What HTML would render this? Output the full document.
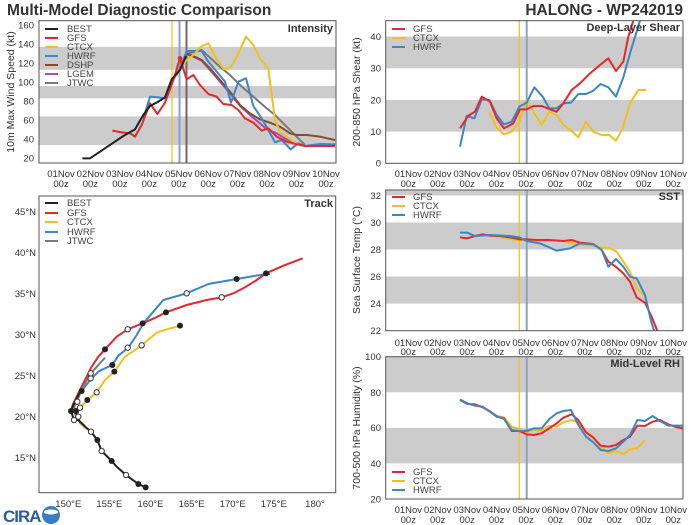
<!DOCTYPE html>
<html><head><meta charset="utf-8"><style>
html,body{margin:0;padding:0;background:#fff;}
svg{display:block;font-family:"Liberation Sans","DejaVu Sans",sans-serif;}
.t{font-size:9.5px;fill:#333;}
.yl{font-size:10.5px;fill:#333;}
.lg{font-size:9.5px;fill:#444;}
.pt{font-size:11px;font-weight:bold;fill:#333;}
</style></head><body>
<svg width="700" height="525" viewBox="0 0 700 525" xmlns="http://www.w3.org/2000/svg">
<defs>
<clipPath id="c1"><rect x="39" y="20.7" width="297" height="142.3"/></clipPath>
<clipPath id="c2"><rect x="385.7" y="20.7" width="297.3" height="142.6"/></clipPath>
<clipPath id="c3"><rect x="385.7" y="190" width="297.3" height="140.7"/></clipPath>
<clipPath id="c4"><rect x="385.7" y="356.7" width="297.3" height="142.3"/></clipPath>
<clipPath id="c5"><rect x="39" y="196" width="296.7" height="296.7"/></clipPath>
</defs>
<text x="7" y="15" style="font-size:15.5px;font-weight:bold;fill:#333">Multi-Model Diagnostic Comparison</text>
<text x="683" y="15" text-anchor="end" style="font-size:15.5px;font-weight:bold;fill:#333">HALONG - WP242019</text>

<!-- INTENSITY -->
<g clip-path="url(#c1)">
<rect x="39" y="46.9" width="297" height="22.9" fill="#cccccc"/>
<rect x="39" y="86" width="297" height="12.3" fill="#cccccc"/>
<rect x="39" y="116.4" width="297" height="28.6" fill="#cccccc"/>
<line x1="172" y1="20" x2="172" y2="163" stroke="#f2c019" stroke-width="1.2"/>
<line x1="179.5" y1="20" x2="179.5" y2="163" stroke="#8da0c8" stroke-width="2"/>
<line x1="186.5" y1="20" x2="186.5" y2="163" stroke="#7a6468" stroke-width="2"/>
<g transform="scale(0.33333)" fill="none" stroke-width="6" stroke-linejoin="round">
<polyline stroke="#7a7a7a" points="558,162 605,150 665,205 690,225 720,255 760,290 800,325 825,345 860,380 890,410 915,435"/>
<polyline stroke="#a050b8" points="558,162 580,170 605,182 630,210 660,245 690,280 720,318 750,345 780,370 800,388 830,400 860,418 895,432"/>
<polyline stroke="#8b4a2b" points="558,160 580,168 605,180 630,205 660,240 690,275 720,315 750,340 780,358 810,368 840,380 870,400 890,405 920,405 960,410 1005,420"/>
<polyline stroke="#3a86c8" points="430,355 450,290 475,292 495,295 520,235 540,205 560,153 580,153 605,153 625,185 650,215 675,245 693,308 715,245 738,235 760,318 785,355 805,390 825,427 845,420 872,448 895,430 915,438 960,432 1005,433"/>
<polyline stroke="#f2c019" points="520,240 540,210 560,180 580,165 605,138 625,130 650,178 672,208 692,203 715,160 738,110 760,135 780,175 805,208 825,360 840,395 870,418 895,435"/>
<polyline stroke="#e8262b" points="337,392 365,397 390,400 405,410 425,375 450,310 472,342 495,308 520,240 540,175 560,238 580,225 600,255 625,282 650,290 670,312 695,315 715,330 735,355 760,368 785,392 805,385 830,410 860,425 890,433 915,438 1005,438"/>
<polyline stroke="#222" points="247,475 270,475 300,455 340,428 370,408 405,388 430,345 450,318 475,305 495,292 515,238 530,222 540,210 558,168"/>
<circle cx="540" cy="175" r="7" fill="#e8262b" stroke="none"/>
</g>
</g>
<rect x="39" y="20.7" width="297" height="142.3" fill="none" stroke="#555" stroke-width="1"/>
<g class="t" text-anchor="end">
<text x="34" y="161.5">20</text><text x="34" y="142.5">40</text><text x="34" y="123.5">60</text><text x="34" y="104.5">80</text><text x="34" y="85.5">100</text><text x="34" y="66.5">120</text><text x="34" y="47.5">140</text><text x="34" y="28.5">160</text>
</g>
<text class="yl" transform="translate(14,92) rotate(-90)" text-anchor="middle">10m Max Wind Speed (kt)</text>
<text class="pt" x="333" y="32" text-anchor="end">Intensity</text>
<g class="lg">
<line x1="45" y1="29" x2="58" y2="29" stroke="#222" stroke-width="2"/><text x="67" y="32">BEST</text>
<line x1="45" y1="38" x2="58" y2="38" stroke="#e8262b" stroke-width="2"/><text x="67" y="41">GFS</text>
<line x1="45" y1="47" x2="58" y2="47" stroke="#f2c019" stroke-width="2"/><text x="67" y="50">CTCX</text>
<line x1="45" y1="56" x2="58" y2="56" stroke="#3a86c8" stroke-width="2"/><text x="67" y="59">HWRF</text>
<line x1="45" y1="65" x2="58" y2="65" stroke="#8b4a2b" stroke-width="2"/><text x="67" y="68">DSHP</text>
<line x1="45" y1="74" x2="58" y2="74" stroke="#a050b8" stroke-width="2"/><text x="67" y="77">LGEM</text>
<line x1="45" y1="83" x2="58" y2="83" stroke="#7a7a7a" stroke-width="2"/><text x="67" y="86">JTWC</text>
</g>
<g class="t" text-anchor="middle">
<text x="61" y="177">01Nov</text><text x="90.4" y="177">02Nov</text><text x="119.9" y="177">03Nov</text><text x="149.3" y="177">04Nov</text><text x="178.8" y="177">05Nov</text><text x="208.2" y="177">06Nov</text><text x="237.6" y="177">07Nov</text><text x="267.1" y="177">08Nov</text><text x="296.5" y="177">09Nov</text><text x="326" y="177">10Nov</text>
<text x="61" y="187">00z</text><text x="90.4" y="187">00z</text><text x="119.9" y="187">00z</text><text x="149.3" y="187">00z</text><text x="178.8" y="187">00z</text><text x="208.2" y="187">00z</text><text x="237.6" y="187">00z</text><text x="267.1" y="187">00z</text><text x="296.5" y="187">00z</text><text x="326" y="187">00z</text>
</g>

<!-- SHEAR -->
<g clip-path="url(#c2)">
<rect x="385.7" y="36.6" width="298" height="31.7" fill="#cccccc"/>
<rect x="385.7" y="100" width="298" height="31.6" fill="#cccccc"/>
<line x1="519.3" y1="20" x2="519.3" y2="164" stroke="#f2c019" stroke-width="1.2"/>
<line x1="526.7" y1="20" x2="526.7" y2="164" stroke="#8da0c8" stroke-width="2"/>
<g transform="translate(350,0) scale(0.33333)" fill="none" stroke-width="6" stroke-linejoin="round">
<polyline stroke="#f2c019" points="418,337 440,383 462,403 485,395 508,365 530,300 552,338 575,375 598,335 620,345 640,375 665,393 685,412 708,365 730,395 755,405 778,405 798,422 818,385 840,310 865,270 888,270"/>
<polyline stroke="#3a86c8" points="330,440 350,348 373,355 395,298 418,300 440,345 462,373 485,365 508,320 530,308 553,262 578,290 598,325 620,325 640,310 663,308 685,282 708,282 730,272 752,252 775,262 798,290 820,232 843,150 870,62"/>
<polyline stroke="#e8262b" points="330,385 355,347 375,335 395,290 420,305 440,355 462,385 490,370 510,328 530,328 550,318 575,318 600,328 620,335 640,310 665,270 690,250 720,220 750,195 775,175 798,213 820,185 835,110 850,62"/>
</g>
</g>
<rect x="385.7" y="20.7" width="297.3" height="142.6" fill="none" stroke="#555"/>
<g class="t" text-anchor="end">
<text x="381" y="166.5">0</text><text x="381" y="135">10</text><text x="381" y="103.5">20</text><text x="381" y="71.5">30</text><text x="381" y="40">40</text>
</g>
<text class="yl" transform="translate(360,92) rotate(-90)" text-anchor="middle">200-850 hPa Shear (kt)</text>
<text class="pt" x="680" y="31" text-anchor="end">Deep-Layer Shear</text>
<g class="lg">
<line x1="392" y1="29" x2="405" y2="29" stroke="#e8262b" stroke-width="2"/><text x="413" y="32">GFS</text>
<line x1="392" y1="38" x2="405" y2="38" stroke="#f2c019" stroke-width="2"/><text x="413" y="41">CTCX</text>
<line x1="392" y1="47" x2="405" y2="47" stroke="#3a86c8" stroke-width="2"/><text x="413" y="50">HWRF</text>
</g>
<g class="t" text-anchor="middle" id="xr1">
<text x="408.3" y="177">01Nov</text><text x="437.7" y="177">02Nov</text><text x="467.2" y="177">03Nov</text><text x="496.6" y="177">04Nov</text><text x="526.1" y="177">05Nov</text><text x="555.5" y="177">06Nov</text><text x="584.9" y="177">07Nov</text><text x="614.4" y="177">08Nov</text><text x="643.8" y="177">09Nov</text><text x="673.3" y="177">10Nov</text>
<text x="408.3" y="187">00z</text><text x="437.7" y="187">00z</text><text x="467.2" y="187">00z</text><text x="496.6" y="187">00z</text><text x="526.1" y="187">00z</text><text x="555.5" y="187">00z</text><text x="584.9" y="187">00z</text><text x="614.4" y="187">00z</text><text x="643.8" y="187">00z</text><text x="673.3" y="187">00z</text>
</g>

<!-- SST -->
<g clip-path="url(#c3)">
<rect x="385.7" y="180" width="298" height="15.4" fill="#cccccc"/>
<rect x="385.7" y="222.5" width="298" height="27" fill="#cccccc"/>
<rect x="385.7" y="276.6" width="298" height="27" fill="#cccccc"/>
<line x1="519.3" y1="189" x2="519.3" y2="331" stroke="#f2c019" stroke-width="1.2"/>
<line x1="526.7" y1="189" x2="526.7" y2="331" stroke="#8da0c8" stroke-width="2"/>
<g transform="translate(350,180) scale(0.33333)" fill="none" stroke-width="6" stroke-linejoin="round">
<polyline stroke="#f2c019" points="420,168 450,172 480,177 508,182 530,180 560,183 640,183 690,195 730,197 755,202 780,205 800,215 820,245 840,275 860,325 885,350 900,410 915,460"/>
<polyline stroke="#e8262b" points="330,172 352,175 375,168 398,163 420,167 450,168 480,172 508,178 530,178 560,180 600,180 640,183 665,180 690,188 730,192 755,210 775,245 800,262 820,280 840,305 860,352 885,368 905,410 925,460"/>
<polyline stroke="#3a86c8" points="330,158 352,158 375,168 420,165 480,168 508,172 530,183 570,190 620,212 660,205 690,190 730,193 755,210 775,260 798,237 820,260 840,290 860,295 885,345 905,430 915,460"/>
</g>
</g>
<rect x="385.7" y="190" width="297.3" height="140.7" fill="none" stroke="#555"/>
<g class="t" text-anchor="end">
<text x="381" y="334">22</text><text x="381" y="307">24</text><text x="381" y="280">26</text><text x="381" y="253">28</text><text x="381" y="226">30</text><text x="381" y="199">32</text>
</g>
<text class="yl" transform="translate(360,260) rotate(-90)" text-anchor="middle">Sea Surface Temp (°C)</text>
<text class="pt" x="680" y="200" text-anchor="end">SST</text>
<g class="lg">
<line x1="392" y1="197" x2="405" y2="197" stroke="#e8262b" stroke-width="2"/><text x="413" y="200">GFS</text>
<line x1="392" y1="206" x2="405" y2="206" stroke="#f2c019" stroke-width="2"/><text x="413" y="209">CTCX</text>
<line x1="392" y1="215" x2="405" y2="215" stroke="#3a86c8" stroke-width="2"/><text x="413" y="218">HWRF</text>
</g>
<g class="t" text-anchor="middle">
<text x="408.3" y="346">01Nov</text><text x="437.7" y="346">02Nov</text><text x="467.2" y="346">03Nov</text><text x="496.6" y="346">04Nov</text><text x="526.1" y="346">05Nov</text><text x="555.5" y="346">06Nov</text><text x="584.9" y="346">07Nov</text><text x="614.4" y="346">08Nov</text><text x="643.8" y="346">09Nov</text><text x="673.3" y="346">10Nov</text>
<text x="408.3" y="355">00z</text><text x="437.7" y="355">00z</text><text x="467.2" y="355">00z</text><text x="496.6" y="355">00z</text><text x="526.1" y="355">00z</text><text x="555.5" y="355">00z</text><text x="584.9" y="355">00z</text><text x="614.4" y="355">00z</text><text x="643.8" y="355">00z</text><text x="673.3" y="355">00z</text>
</g>

<!-- RH -->
<g clip-path="url(#c4)">
<rect x="385.7" y="356.7" width="298" height="35.6" fill="#cccccc"/>
<rect x="385.7" y="427.9" width="298" height="35.5" fill="#cccccc"/>
<line x1="519.3" y1="356" x2="519.3" y2="500" stroke="#f2c019" stroke-width="1.2"/>
<line x1="526.7" y1="356" x2="526.7" y2="500" stroke="#8da0c8" stroke-width="2"/>
<g transform="translate(350,345) scale(0.33333)" fill="none" stroke-width="6" stroke-linejoin="round">
<polyline stroke="#f2c019" points="410,192 440,213 462,217 485,245 508,252 530,262 552,255 575,258 598,242 620,245 640,232 663,225 685,232 708,262 730,275 752,305 775,325 798,318 820,327 840,313 862,310 885,285"/>
<polyline stroke="#e8262b" points="330,165 352,177 375,178 400,188 420,200 440,215 462,220 485,258 508,258 530,268 552,270 575,265 598,250 620,235 640,218 665,208 685,225 708,262 730,278 752,302 775,305 798,300 820,285 840,275 862,242 885,243 908,230 930,225 955,238 978,246 998,250"/>
<polyline stroke="#3a86c8" points="330,163 352,175 375,182 398,185 420,200 440,213 462,222 485,255 508,258 530,258 552,250 575,250 598,222 620,205 640,198 663,195 685,240 708,275 730,292 752,315 775,318 798,310 820,290 840,270 862,225 885,228 908,213 930,228 955,242 998,242"/>
</g>
</g>
<rect x="385.7" y="356.7" width="297.3" height="142.3" fill="none" stroke="#555"/>
<g class="t" text-anchor="end">
<text x="381" y="502.5">20</text><text x="381" y="467">40</text><text x="381" y="431">60</text><text x="381" y="396">80</text><text x="381" y="360">100</text>
</g>
<text class="yl" transform="translate(360,428) rotate(-90)" text-anchor="middle">700-500 hPa Humidity (%)</text>
<text class="pt" x="680" y="367" text-anchor="end">Mid-Level RH</text>
<g class="lg">
<line x1="392" y1="472" x2="405" y2="472" stroke="#e8262b" stroke-width="2"/><text x="413" y="475">GFS</text>
<line x1="392" y1="481" x2="405" y2="481" stroke="#f2c019" stroke-width="2"/><text x="413" y="484">CTCX</text>
<line x1="392" y1="490" x2="405" y2="490" stroke="#3a86c8" stroke-width="2"/><text x="413" y="493">HWRF</text>
</g>
<g class="t" text-anchor="middle">
<text x="408.3" y="513">01Nov</text><text x="437.7" y="513">02Nov</text><text x="467.2" y="513">03Nov</text><text x="496.6" y="513">04Nov</text><text x="526.1" y="513">05Nov</text><text x="555.5" y="513">06Nov</text><text x="584.9" y="513">07Nov</text><text x="614.4" y="513">08Nov</text><text x="643.8" y="513">09Nov</text><text x="673.3" y="513">10Nov</text>
<text x="408.3" y="523">00z</text><text x="437.7" y="523">00z</text><text x="467.2" y="523">00z</text><text x="496.6" y="523">00z</text><text x="526.1" y="523">00z</text><text x="555.5" y="523">00z</text><text x="584.9" y="523">00z</text><text x="614.4" y="523">00z</text><text x="643.8" y="523">00z</text><text x="673.3" y="523">00z</text>
</g>

<!-- TRACK -->
<g clip-path="url(#c5)">
<g transform="translate(0,200) scale(0.33333)" fill="none" stroke-width="6" stroke-linejoin="round">
<polyline stroke="#f2c019" points="262,688 240,670 230,645 240,623 262,600 290,577 315,540 343,515 375,470 425,436 470,398 500,388 540,377"/>
<polyline stroke="#3a86c8" points="255,678 240,665 230,650 222,620 228,600 240,580 255,560 275,535 295,515 315,505 337,495 355,467 385,443 410,405 430,370 460,335 490,300 560,280 625,252 710,237 798,222 810,222"/>
<polyline stroke="#e8262b" points="213,633 218,615 235,580 245,560 260,530 275,500 295,470 315,448 350,410 383,388 428,370 462,355 498,337 560,315 620,300 665,292 700,280 733,263 770,240 798,220 850,197 908,175"/>
<polyline stroke="#7a7a7a" points="228,652 222,622 232,600 250,560 270,523 295,495 315,473"/>
<polyline stroke="#222" points="437,862 415,852 378,825 350,800 335,783 305,753 292,720 273,695 255,680 235,660 222,660 213,633 220,615 228,600 240,575 245,565"/>
<g fill="#222" stroke="none">
<circle cx="437" cy="862" r="9"/><circle cx="415" cy="852" r="9"/><circle cx="335" cy="783" r="9"/><circle cx="292" cy="720" r="9"/><circle cx="213" cy="633" r="9"/><circle cx="228" cy="633" r="9"/><circle cx="245" cy="573" r="9"/><circle cx="262" cy="600" r="9"/><circle cx="315" cy="448" r="9"/><circle cx="343" cy="515" r="9"/><circle cx="337" cy="495" r="9"/><circle cx="428" cy="370" r="9"/><circle cx="498" cy="337" r="9"/><circle cx="540" cy="377" r="9"/><circle cx="710" cy="237" r="9"/><circle cx="798" cy="220" r="9"/>
</g>
<g fill="#fff" stroke="#333" stroke-width="3">
<circle cx="378" cy="825" r="8"/><circle cx="305" cy="753" r="8"/><circle cx="273" cy="695" r="8"/><circle cx="222" cy="660" r="8"/><circle cx="235" cy="650" r="8"/><circle cx="240" cy="623" r="8"/><circle cx="232" cy="605" r="8"/><circle cx="290" cy="577" r="8"/><circle cx="272" cy="535" r="8"/><circle cx="272" cy="520" r="8"/><circle cx="383" cy="388" r="8"/><circle cx="383" cy="443" r="8"/><circle cx="425" cy="436" r="8"/><circle cx="560" cy="280" r="8"/><circle cx="665" cy="292" r="8"/>
</g>
</g>
</g>
<rect x="39" y="196" width="296.7" height="296.7" fill="none" stroke="#555"/>
<text class="pt" x="333" y="207" text-anchor="end">Track</text>
<g class="lg">
<line x1="45" y1="203" x2="58" y2="203" stroke="#222" stroke-width="2"/><text x="67" y="206">BEST</text>
<line x1="45" y1="213" x2="58" y2="213" stroke="#e8262b" stroke-width="2"/><text x="67" y="216">GFS</text>
<line x1="45" y1="222" x2="58" y2="222" stroke="#f2c019" stroke-width="2"/><text x="67" y="225">CTCX</text>
<line x1="45" y1="232" x2="58" y2="232" stroke="#3a86c8" stroke-width="2"/><text x="67" y="235">HWRF</text>
<line x1="45" y1="241" x2="58" y2="241" stroke="#7a7a7a" stroke-width="2"/><text x="67" y="244">JTWC</text>
</g>
<g class="t" text-anchor="end">
<text x="36" y="215">45°N</text><text x="36" y="256">40°N</text><text x="36" y="297">35°N</text><text x="36" y="338">30°N</text><text x="36" y="379">25°N</text><text x="36" y="420">20°N</text><text x="36" y="461">15°N</text>
</g>
<g class="t" text-anchor="middle">
<text x="68.3" y="507">150°E</text><text x="109.4" y="507">155°E</text><text x="150.5" y="507">160°E</text><text x="191.6" y="507">165°E</text><text x="232.7" y="507">170°E</text><text x="273.8" y="507">175°E</text><text x="315" y="507">180°</text>
</g>
<!-- CIRA logo -->
<text x="3" y="522" style="font-size:17px;font-weight:bold;fill:#2a5aa0;letter-spacing:-1px">CIRA</text>
<circle cx="51" cy="515" r="9" fill="#3a7cc8"/>
<ellipse cx="51" cy="512" rx="7" ry="2.5" fill="#fff"/>
</svg>
</body></html>
